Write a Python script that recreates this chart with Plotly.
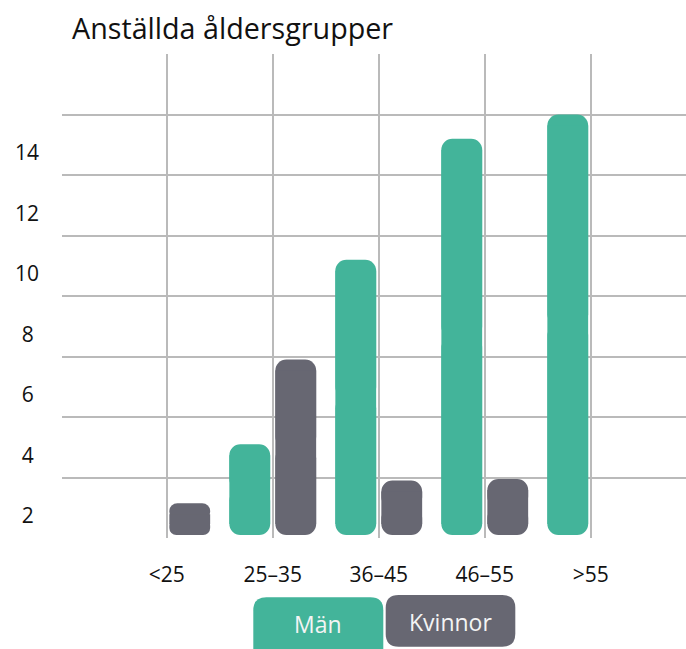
import plotly.graph_objects as go

# ---- data ----
categories = ["<25", "25–35", "36–45", "46–55", ">55"]
man = [0, 3.0, 9.1, 13.1, 13.9]
kvinnor = [1.05, 5.8, 1.8, 1.85, 0]
y_ticks = [2, 4, 6, 8, 10, 12, 14]
title_text = "Anställda åldersgrupper"
legend_names = ["Män", "Kvinnor"]

# ---- style ----
GREEN = "#43b49a"
GRAY = "#676772"
GRID = "#bababa"
FONT = "Open Sans"
W, H = 686, 649
L, R, T, B = 62, 0, 54, 111
PW, PH = W - L - R, H - T - B
Y_MAX = 16
BASELINE = 0.1      # bars float slightly above the bottom edge
OVERLAP = 0.02
BAR_W = 0.385
OFF_M = -0.409
OFF_K = 0.025
RADIUS = 11
R_UNITS = RADIUS / (PH / Y_MAX)   # corner radius expressed in y units


def px_to_paper(x, y):
    return (x - L) / PW, (H - B - y) / PH


def split_bars(vals, name, color, offset):
    # upper half (rounded top) + lower half drawn downward (rounded bottom)
    # + a square-cornered core that hides the joint between them
    mids = [BASELINE + v / 2 if v else None for v in vals]
    up = [v / 2 + OVERLAP if v else None for v in vals]
    up_base = [BASELINE + v / 2 - OVERLAP if v else None for v in vals]
    down = [-v / 2 if v else None for v in vals]
    core = [v - 2 * R_UNITS if v else None for v in vals]
    core_base = [BASELINE + R_UNITS if v else None for v in vals]
    common = dict(x=categories, width=BAR_W, offset=offset,
                  name=name, showlegend=False, hoverinfo="skip")
    rounded = dict(color=color, cornerradius=RADIUS, line=dict(width=0))
    square = dict(color=color, line=dict(width=0))
    return [go.Bar(y=up, base=up_base, marker=rounded, **common),
            go.Bar(y=down, base=mids, marker=rounded, **common),
            go.Bar(y=core, base=core_base, marker=square, **common)]


fig = go.Figure()
for tr in split_bars(man, legend_names[0], GREEN, OFF_M):
    fig.add_trace(tr)
for tr in split_bars(kvinnor, legend_names[1], GRAY, OFF_K):
    fig.add_trace(tr)
# carrier for the shifted label axis
fig.add_trace(go.Scatter(x=[], y=[], yaxis="y2", showlegend=False, hoverinfo="skip"))

cat_px = 106.0
cat0_px = 166.7
x_range = [-(cat0_px - L) / cat_px, (W - R - cat0_px) / cat_px]

fig.update_layout(
    width=W, height=H,
    margin=dict(l=L, r=R, t=T, b=B, autoexpand=False),
    paper_bgcolor="white", plot_bgcolor="white",
    barmode="overlay",
    showlegend=False,
    font=dict(family=FONT, color="#111111", size=22),
    title=dict(text=title_text, x=72 / W, xanchor="left", xref="container",
               y=1 - 29 / H, yanchor="middle", yref="container",
               font=dict(family=FONT, size=28.7, color="#111111")),
    xaxis=dict(type="category", range=x_range, showgrid=True, gridcolor=GRID,
               gridwidth=2, zeroline=False, showline=False, ticks="",
               tickfont=dict(size=21), ticklabelstandoff=22),
    yaxis=dict(range=[0, Y_MAX], tickvals=y_ticks, showgrid=True, gridcolor=GRID,
               gridwidth=2, zeroline=False, showline=False, showticklabels=False,
               ticks=""),
    yaxis2=dict(overlaying="y", side="left", range=[1.27, Y_MAX + 1.27], tickvals=y_ticks,
                ticktext=[(str(v) + "\u2005") if v < 10 else str(v) for v in y_ticks],
                showgrid=False, zeroline=False, showline=False, ticks="",
                tickfont=dict(size=21), ticklabelstandoff=22),
)


def rounded_rect(x0, y0, x1, y1, r):
    def P(x, y):
        a, b = px_to_paper(x, y)
        return f"{a:.5f},{b:.5f}"
    return (f"M {P(x0 + r, y0)} L {P(x1 - r, y0)} Q {P(x1, y0)} {P(x1, y0 + r)} "
            f"L {P(x1, y1 - r)} Q {P(x1, y1)} {P(x1 - r, y1)} "
            f"L {P(x0 + r, y1)} Q {P(x0, y1)} {P(x0, y1 - r)} "
            f"L {P(x0, y0 + r)} Q {P(x0, y0)} {P(x0 + r, y0)} Z")


legend_boxes = [
    (253.3, 597.3, 383.3, 662, GREEN, 318, 624),
    (385.7, 595.0, 515.3, 646.7, GRAY, 450.5, 621.5),
]
for (x0, y0, x1, y1, col, tx, ty), label in zip(legend_boxes, legend_names):
    fig.add_shape(type="path", path=rounded_rect(x0, y0, x1, y1, 13),
                  xref="paper", yref="paper", fillcolor=col, line=dict(width=0),
                  layer="above")
    ax, ay = px_to_paper(tx, ty)
    fig.add_annotation(text=label, x=ax, y=ay, xref="paper", yref="paper",
                       xanchor="center", yanchor="middle", showarrow=False,
                       font=dict(family=FONT, size=23, color="#f4f4f4"))

fig.write_html("out.html", config={"displayModeBar": False},
               post_script="document.body.style.margin='0';document.body.style.overflow='hidden';")
